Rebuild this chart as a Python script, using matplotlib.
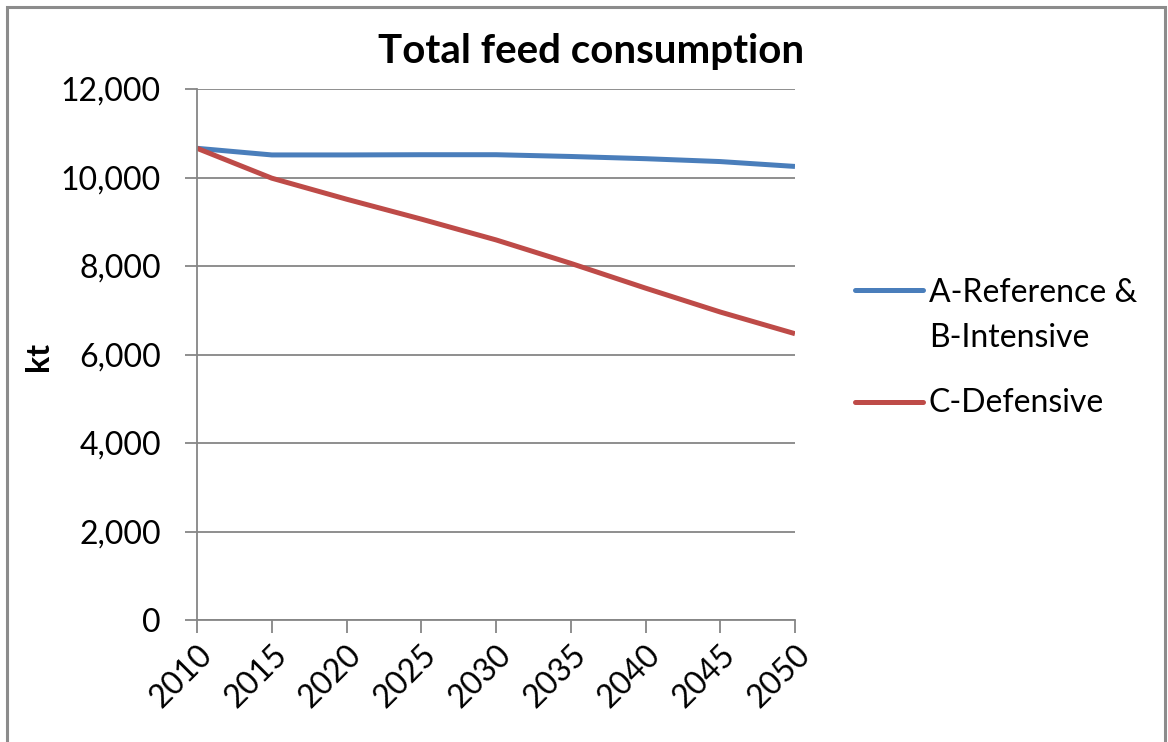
import matplotlib.pyplot as plt
import matplotlib.patches as patches
from matplotlib.lines import Line2D
from matplotlib.ticker import FuncFormatter

# Feed consumption by scenario (kt)
years = [2010, 2015, 2020, 2025, 2030, 2035, 2040, 2045, 2050]
ref_intensive = [10660, 10510, 10510, 10515, 10515, 10475, 10425, 10360, 10250]
defensive = [10660, 9985, 9510, 9060, 8590, 8060, 7500, 6960, 6470]

title = "Total feed consumption"
y_label = "kt"

BLUE = '#4A7EBB'
RED = '#BE4B48'
GRID = '#868686'

W, H = 1168, 742

plt.rcParams['font.family'] = ['Lato', 'DejaVu Sans']

fig = plt.figure(figsize=(W / 100, H / 100), dpi=100)
ax = fig.add_axes([197 / W, 1 - 620 / H, 598 / W, 531 / H])

ax.plot(years, ref_intensive, color=BLUE, lw=3.6, solid_capstyle='butt')
ax.plot(years, defensive, color=RED, lw=3.6, solid_capstyle='butt')

ax.set_xlim(2010, 2050)
ax.set_ylim(0, 12000)
ax.set_xticks(years)
ax.set_yticks(range(0, 12001, 2000))
ax.yaxis.set_major_formatter(FuncFormatter(lambda v, p: f"{int(v):,}"))

ax.grid(axis='y', color=GRID, lw=1.3)
ax.set_axisbelow(True)
for side in ('top', 'right'):
    ax.spines[side].set_visible(False)
for side in ('left', 'bottom'):
    ax.spines[side].set_color(GRID)
    ax.spines[side].set_linewidth(1.3)

ax.tick_params(axis='x', direction='out', length=9, width=1.3, color=GRID, labelsize=23, pad=5)
ax.tick_params(axis='y', direction='out', length=9, width=1.3, color=GRID, labelsize=23, pad=17)
for lbl in ax.get_xticklabels():
    lbl.set_rotation(45)
    lbl.set_ha('right')
    lbl.set_rotation_mode('anchor')

fig.text(38 / W, 1 - 356 / H, y_label, rotation=90, ha='center', va='center',
         fontsize=23, fontweight='bold')
fig.text(591 / W, 1 - 52 / H, title, ha='center', va='center', fontsize=29, fontweight='bold')

# legend, drawn by hand so the line sits on the first text row
def legend_entry(y_line, color, rows):
    fig.add_artist(Line2D([855 / W, 923 / W], [1 - y_line / H] * 2, transform=fig.transFigure,
                          color=color, lw=3.6, solid_capstyle='round'))
    for text, base in rows:
        fig.text(929 / W, 1 - base / H, text, ha='left', va='baseline', fontsize=23)

legend_entry(290, BLUE, [("A-Reference &", 302), ("B-Intensive", 347)])
legend_entry(402, RED, [("C-Defensive", 412)])

# outer chart border
fig.add_artist(patches.Rectangle((7 / W, -0.02), 1 - 10 / W, 1.02 - 7 / H, transform=fig.transFigure,
                                 fill=False, edgecolor='#8c8c8c', lw=2.2))

fig.savefig('out.png', dpi=100)
